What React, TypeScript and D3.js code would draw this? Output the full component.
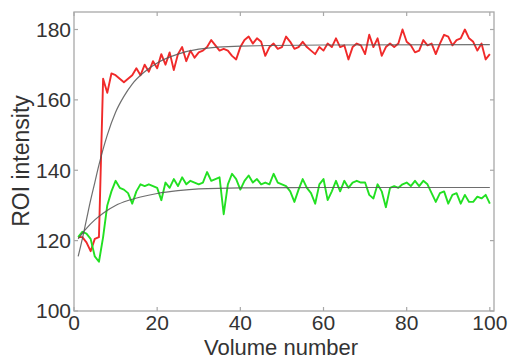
import { useEffect, useRef } from "react";
import * as d3 from "d3";

// volume numbers 1..100
const volumes = d3.range(1, 101);

const redValues = [
  121, 121, 119.5, 117, 120.5, 121, 166, 162, 167.5, 167,
  166, 165, 166, 167, 169, 167, 170, 168, 171, 169,
  173, 170, 173.5, 168.5, 173, 175, 171, 174, 172, 173.5,
  174, 175, 177, 175.5, 174, 174.5, 174, 172.5, 171.5, 175,
  177, 178, 176, 177.5, 176.5, 172.5, 175, 176, 174.5, 175,
  178, 176.5, 174.5, 175, 176.5, 175, 174, 173, 175, 174,
  176, 175, 177.5, 175, 175.5, 171.5, 175, 176, 175.5, 173,
  178.5, 175, 177.5, 172.5, 175, 176, 175, 176, 180, 176.5,
  175.5, 173.5, 174, 177, 175.5, 176, 173, 176, 178.5, 178,
  175.5, 177, 177.5, 180, 177.5, 176.5, 174, 176, 171.5, 173,
];

const greenValues = [
  121, 122.5, 122, 120.5, 115.5, 114, 121, 130, 134, 137,
  135, 134.5, 133.5, 130.5, 134, 136, 135.5, 136, 135.5, 135,
  131.5, 136.5, 135, 137.5, 135.5, 138, 136, 137, 136.5, 136,
  136.5, 139.5, 137, 137.5, 138, 127.5, 136, 139, 137.5, 134.5,
  137, 138.5, 136.5, 137.5, 136, 136.5, 136, 139, 136.5, 136,
  135.5, 134, 131, 134.5, 137.5, 135, 133.5, 130.5, 136, 137.5,
  131.5, 134, 137, 134, 137, 135, 136.5, 137, 136.5, 136.5,
  133, 132, 136, 134, 129.5, 135, 135.5, 135, 136, 136.5,
  135.5, 137, 135.5, 137, 136, 133.5, 131, 133.5, 134, 130.5,
  133, 133.5, 130.5, 133, 131, 131, 132.5, 132, 133, 130.5,
];

// fitted curves
const redFitX = [1, 2, 3, 4, 5, 6, 7, 8, 10, 12, 14, 17, 20, 25, 30, 40, 60, 100];
const redFitY = [115.5, 120.5, 126, 131.5, 136.5, 141.5, 146, 150, 156.5, 161, 164.5, 168, 170.5, 173, 174.4, 175.3, 175.6, 175.7];
const greenFitX = [1, 3, 5, 7, 10, 13, 16, 20, 25, 30, 40, 60, 100];
const greenFitY = [120.5, 123.5, 125.9, 127.8, 130, 131.4, 132.4, 133.4, 134.2, 134.7, 135, 135.1, 135.1];

const xTicks = [0, 20, 40, 60, 80, 100];
const yTicks = [100, 120, 140, 160, 180];

export default function App() {
  const svgRef = useRef<SVGSVGElement>(null);

  useEffect(() => {
    if (!svgRef.current) return;
    const width = 508;
    const height = 361;
    const left = 74, right = 494, top = 12, bottom = 311;

    const svg = d3.select(svgRef.current);
    svg.selectAll("*").remove();

    const x = d3.scaleLinear().domain([0, 101]).range([left, right]);
    const y = d3.scaleLinear().domain([100, 180]).range([bottom, 29.5]);

    svg.append("rect").attr("width", width).attr("height", height).attr("fill", "#fff");

    const axisColor = "#a8a8a8";
    const font = "'Liberation Sans', Arial, sans-serif";

    // box
    svg
      .append("rect")
      .attr("x", left)
      .attr("y", top)
      .attr("width", right - left)
      .attr("height", bottom - top)
      .attr("fill", "none")
      .attr("stroke", axisColor)
      .attr("stroke-width", 1.3);

    // inside ticks
    const tickLen = 4;
    const ticks = svg.append("g").attr("stroke", axisColor).attr("stroke-width", 1.2);
    xTicks.forEach((t) => {
      ticks.append("line").attr("x1", x(t)).attr("x2", x(t)).attr("y1", bottom).attr("y2", bottom - tickLen);
      ticks.append("line").attr("x1", x(t)).attr("x2", x(t)).attr("y1", top).attr("y2", top + tickLen);
    });
    yTicks.forEach((t) => {
      ticks.append("line").attr("x1", left).attr("x2", left + tickLen).attr("y1", y(t)).attr("y2", y(t));
      ticks.append("line").attr("x1", right).attr("x2", right - tickLen).attr("y1", y(t)).attr("y2", y(t));
    });

    // tick labels
    svg
      .append("g")
      .selectAll("text")
      .data(xTicks)
      .join("text")
      .attr("x", (d) => x(d))
      .attr("y", 330)
      .attr("text-anchor", "middle")
      .attr("font-family", font)
      .attr("font-size", 21)
      .attr("fill", "#333")
      .text((d) => d);

    svg
      .append("g")
      .selectAll("text")
      .data(yTicks)
      .join("text")
      .attr("x", 71)
      .attr("y", (d) => y(d))
      .attr("dy", "0.35em")
      .attr("text-anchor", "end")
      .attr("font-family", font)
      .attr("font-size", 21)
      .attr("fill", "#333")
      .text((d) => d);

    // axis titles
    svg
      .append("text")
      .attr("x", 281)
      .attr("y", 355)
      .attr("text-anchor", "middle")
      .attr("font-family", font)
      .attr("font-size", 22)
      .attr("fill", "#333")
      .text("Volume number");

    svg
      .append("text")
      .attr("transform", "translate(29,161) rotate(-90)")
      .attr("text-anchor", "middle")
      .attr("font-family", font)
      .attr("font-size", 23)
      .attr("fill", "#333")
      .text("ROI intensity");

    const line = d3
      .line<[number, number]>()
      .x((d) => x(d[0]))
      .y((d) => y(d[1]));

    svg
      .append("path")
      .attr("d", line(volumes.map((v, i) => [v, redValues[i]] as [number, number])))
      .attr("fill", "none")
      .attr("stroke", "#f02a2a")
      .attr("stroke-width", 1.9)
      .attr("stroke-linejoin", "round");

    svg
      .append("path")
      .attr("d", line(volumes.map((v, i) => [v, greenValues[i]] as [number, number])))
      .attr("fill", "none")
      .attr("stroke", "#22e022")
      .attr("stroke-width", 1.9)
      .attr("stroke-linejoin", "round");

    const fitLine = line.curve(d3.curveMonotoneX);
    svg
      .append("path")
      .attr("d", fitLine(redFitX.map((v, i) => [v, redFitY[i]] as [number, number])))
      .attr("fill", "none")
      .attr("stroke", "#555")
      .attr("stroke-opacity", 0.85)
      .attr("stroke-width", 1.2);

    svg
      .append("path")
      .attr("d", fitLine(greenFitX.map((v, i) => [v, greenFitY[i]] as [number, number])))
      .attr("fill", "none")
      .attr("stroke", "#555")
      .attr("stroke-opacity", 0.85)
      .attr("stroke-width", 1.2);
  }, []);

  return (
    <div style={{ position: "fixed", left: 0, top: 0 }}>
      <svg ref={svgRef} width={508} height={361} style={{ display: "block" }} />
    </div>
  );
}
